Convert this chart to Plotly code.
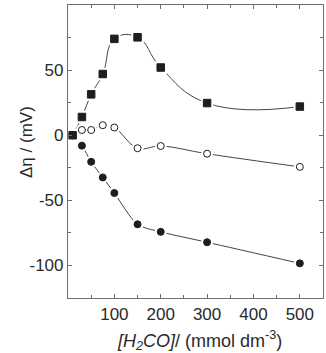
import plotly.graph_objects as go

conc = [10, 30, 50, 75, 100, 150, 200, 300, 500]
squares = [0, 14, 31.4, 47, 74, 75.2, 52, 24.7, 22]
open_circles = [0, 4, 4, 7.7, 5.9, -10, -8.3, -14.2, -24.3]
filled_circles = [0, -8, -20.4, -32.4, -44.4, -68.4, -74.2, -82.2, -98.4]

x_ticks = [100, 200, 300, 400, 500]
y_ticks = [-100, -50, 0, 50]

LINE = "#444444"
MARK = "#1e1e1e"
TXT = "#2a2a2a"
FONT = "Liberation Sans, Arial, sans-serif"

fig = go.Figure()

series = [
    (squares, "square", MARK, MARK, 7.5, 1.3),
    (open_circles, "circle", "white", MARK, 7, 1.1),
    (filled_circles, "circle", MARK, MARK, 7, 0.8),
]

# lines
for ys, sym, fill, edge, sz, sm in series:
    fig.add_trace(go.Scatter(x=conc, y=ys, mode="lines",
                             line=dict(color=LINE, width=1, shape="spline", smoothing=sm),
                             hoverinfo="skip", showlegend=False))
# white halos to create gaps between line and markers
for ys, sym, fill, edge, sz, sm in series:
    fig.add_trace(go.Scatter(x=conc, y=ys, mode="markers",
                             marker=dict(symbol=sym, size=sz + 5, color="white", line=dict(width=0)),
                             hoverinfo="skip", showlegend=False))
# markers
for ys, sym, fill, edge, sz, sm in series:
    fig.add_trace(go.Scatter(x=conc, y=ys, mode="markers",
                             marker=dict(symbol=sym, size=sz, color=fill, line=dict(color=edge, width=1)),
                             showlegend=False))

axis_common = dict(
    showline=True, linecolor="#6e6e6e", linewidth=1.2, mirror="ticks",
    ticks="inside", ticklen=4, tickwidth=1, tickcolor="#6e6e6e",
    showgrid=False, zeroline=False,
    tickfont=dict(family=FONT, size=17, color=TXT),
)

fig.update_xaxes(range=[0, 550], tickvals=x_ticks, ticktext=[str(v) for v in x_ticks],
                 minor=dict(tickvals=[50, 150, 250, 350, 450], ticks="inside", ticklen=3,
                            tickcolor="#6e6e6e"),
                 **axis_common)
fig.update_yaxes(range=[-125, 100], tickvals=y_ticks, ticktext=[str(v) for v in y_ticks],
                 minor=dict(tickvals=[-125, -75, -25, 25, 75], ticks="inside", ticklen=3,
                            tickcolor="#6e6e6e"),
                 **axis_common)

fig.add_annotation(text="<i>[H<sub>2</sub>CO]</i>/ (mmol dm<sup>-3</sup>)",
                   xref="paper", yref="paper", x=(199 - 68) / 255, y=-(340 - 298) / 293,
                   xanchor="center", yanchor="middle", showarrow=False,
                   font=dict(family=FONT, size=18, color=TXT))
fig.add_annotation(text="Δη / (mV)",
                   xref="paper", yref="paper", x=(26 - 68) / 255, y=(298 - 142) / 293,
                   xanchor="center", yanchor="middle", showarrow=False, textangle=-90,
                   font=dict(family=FONT, size=17, color=TXT))

fig.update_layout(
    width=326, height=353,
    margin=dict(l=68, r=3, t=5, b=55),
    paper_bgcolor="white", plot_bgcolor="white",
    showlegend=False,
)

fig.write_html("out.html", config={"displayModeBar": False})
